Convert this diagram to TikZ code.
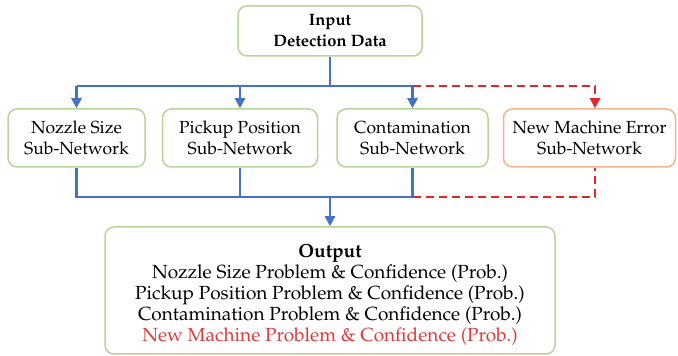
\documentclass[tikz,border=0pt]{standalone}
\usepackage[T1]{fontenc}
\usepackage{mathpazo}
\usetikzlibrary{arrows.meta}
\definecolor{boxgreen}{HTML}{B5D69A}
\definecolor{boxorange}{HTML}{F2B58C}
\definecolor{linkblue}{HTML}{4472C4}
\definecolor{linkred}{HTML}{E3262B}
\definecolor{textred}{HTML}{E0393B}
\tikzset{
  box/.style={draw=boxgreen, line width=1.5pt, rounded corners=9pt, align=center,
    font=\fontsize{17.5}{21}\selectfont, inner sep=0pt},
  newbox/.style={box, draw=boxorange},
  link/.style={draw=linkblue, line width=2.4pt},
  newlink/.style={draw=linkred, line width=2.4pt, dash pattern=on 8pt off 5pt},
  tip/.style={-{Triangle[width=10pt,length=10pt]}},
}
\begin{document}
\begin{tikzpicture}[x=1pt,y=1pt]
\useasboundingbox (0,0) rectangle (678,356);
% input and sub-networks
\node[box, minimum width=184pt, minimum height=50pt,
  font=\fontsize{16.5}{21}\selectfont] (in) at (330,325)
  {\textbf{Input}\\\textbf{Detection Data}};
\node[box, minimum width=137pt, minimum height=58pt] (n1) at (76.5,218)
  {Nozzle Size\\Sub-Network};
\node[box, minimum width=155pt, minimum height=58pt] (n2) at (240,218)
  {Pickup Position\\Sub-Network};
\node[box, minimum width=151pt, minimum height=58pt] (n3) at (412.5,218)
  {Contamination\\Sub-Network};
\node[newbox, minimum width=172pt, minimum height=58pt] (n4) at (589.5,218)
  {New Machine Error\\Sub-Network};
% output
\node[box, minimum width=450pt, minimum height=127pt,
  font=\fontsize{19}{21}\selectfont] (out) at (330,65.5)
  {\rule{0pt}{21pt}\textbf{Output}\\
   Nozzle Size Problem \& Confidence (Prob.)\\
   Pickup Position Problem \& Confidence (Prob.)\\
   Contamination Problem \& Confidence (Prob.)\\
   \textcolor{textred}{New Machine Problem \& Confidence (Prob.)}};
% bus lines
\coordinate (top) at (330,270);
\coordinate (bot) at (330,159);
\coordinate (rtop) at (595,270);
\coordinate (rbot) at (595,159);
% distribution from the input
\draw[link] (in.south) -- (top);
\draw[link] (n1.north |- top) -- (n3.north |- top);
\draw[link, tip] (n1.north |- top) -- (n1.north);
\draw[link, tip] (n2.north |- top) -- (n2.north);
\draw[link, tip] (n3.north |- top) -- (n3.north);
\draw[newlink] (n3.north |- top) -- (rtop);
\draw[newlink, tip] (rtop) -- (rtop |- n4.north);
% collection into the output
\draw[link] (n1.south) -- (n1.south |- bot) -- (n3.south |- bot) -- (n3.south);
\draw[link] (n2.south) -- (n2.south |- bot);
\draw[link, tip] (bot) -- (out.north);
\draw[newlink] (n3.south |- bot) -- (rbot) -- (rbot |- n4.south);
\end{tikzpicture}
\end{document}
